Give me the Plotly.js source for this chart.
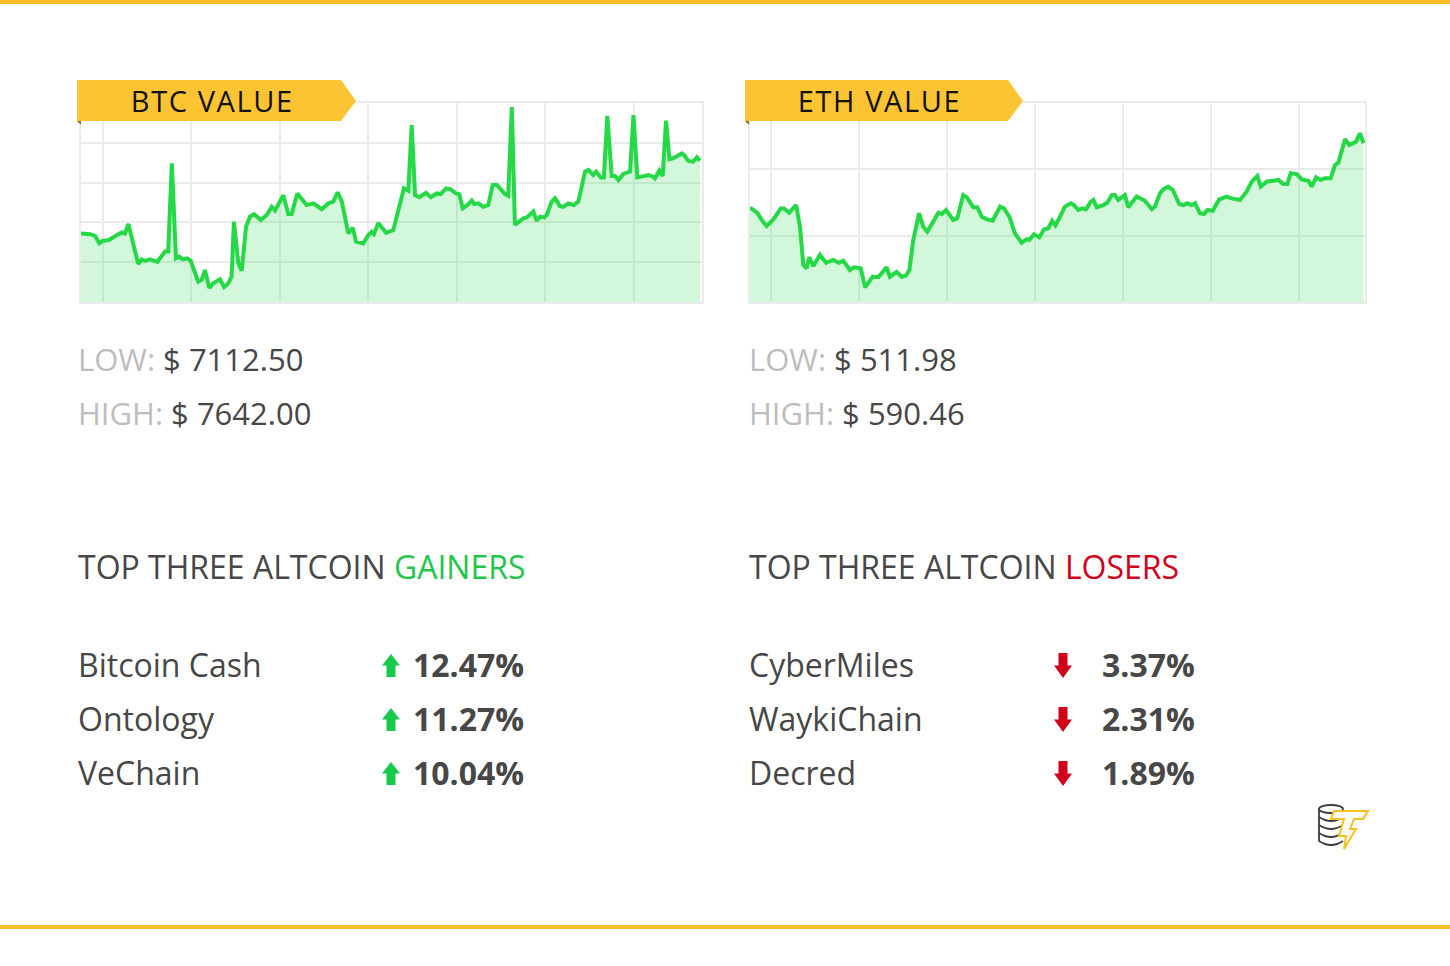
<!DOCTYPE html>
<html>
<head>
<meta charset="utf-8">
<script src="https://cdn.plot.ly/plotly-3.0.1.min.js"></script>
<style>
  html, body { margin: 0; padding: 0; background: #ffffff; }
  #chart { width: 1450px; height: 966px; }
</style>
</head>
<body>
<div id="chart"></div>
<script>
// ---------------- DATA ----------------
// time of day in hours (0-24), price in USD
const btcTime = [0.00,0.35,0.54,0.71,0.85,1.08,1.38,1.57,1.70,1.83,2.21,2.35,2.47,2.67,2.95,3.25,3.37,3.51,3.67,3.80,3.93,4.11,4.24,4.53,4.66,4.79,4.96,5.11,5.37,5.53,5.69,5.82,5.91,6.08,6.21,6.38,6.53,6.69,6.95,7.18,7.37,7.50,7.82,8.01,8.14,8.36,8.72,8.98,9.30,9.56,9.75,9.92,10.08,10.33,10.50,10.63,10.91,11.10,11.23,11.32,11.49,11.79,12.07,12.26,12.48,12.65,12.78,12.91,13.08,13.33,13.52,13.75,13.90,14.11,14.29,14.49,14.62,14.75,14.93,15.10,15.20,15.36,15.55,15.74,15.91,16.07,16.26,16.39,16.51,16.65,16.77,16.90,17.10,17.23,17.48,17.61,17.74,17.90,18.00,18.19,18.32,18.51,18.64,18.83,19.05,19.22,19.48,19.61,19.80,19.91,20.09,20.21,20.34,20.51,20.64,20.77,20.96,21.22,21.35,21.50,21.73,21.93,22.10,22.18,22.35,22.48,22.61,22.74,22.89,23.09,23.22,23.31,23.47,23.66,23.80,23.92];
const btcPrice = [7272,7270,7265,7243,7251,7253,7267,7275,7272,7300,7183,7196,7192,7196,7189,7219,7219,7477,7199,7204,7196,7199,7192,7131,7136,7165,7112.5,7126,7138,7115,7126,7146,7306,7185,7163,7292,7321,7328,7311,7326,7350,7339,7384,7329,7329,7389,7355,7360,7343,7360,7365,7392,7365,7272,7289,7248,7243,7267,7277,7270,7303,7274,7282,7341,7404,7397,7589,7384,7378,7391,7378,7389,7387,7404,7401,7389,7387,7346,7355,7368,7358,7360,7350,7355,7414,7414,7399,7387,7382,7642,7297,7306,7316,7319,7336,7309,7321,7319,7326,7365,7375,7352,7350,7360,7355,7365,7453,7458,7443,7453,7436,7436,7616,7440,7440,7428,7446,7453,7618,7436,7440,7443,7438,7433,7456,7440,7602,7489,7492,7499,7506,7501,7484,7482,7495,7485];

const ethTime = [0.00,0.28,0.46,0.65,0.91,1.20,1.33,1.53,1.80,1.95,2.08,2.21,2.31,2.47,2.73,2.97,3.25,3.47,3.64,3.90,4.06,4.32,4.49,4.79,5.01,5.33,5.46,5.72,5.92,6.08,6.22,6.37,6.60,6.76,6.92,7.22,7.35,7.48,7.65,7.93,8.09,8.32,8.46,8.71,8.87,9.04,9.24,9.47,9.76,9.91,10.12,10.34,10.60,10.80,10.90,11.08,11.29,11.47,11.64,11.79,11.92,12.10,12.29,12.52,12.64,12.81,12.98,13.11,13.30,13.40,13.53,13.79,13.94,14.12,14.24,14.37,14.63,14.76,15.09,15.41,15.68,15.80,16.00,16.13,16.32,16.50,16.75,16.91,17.07,17.24,17.37,17.56,17.72,17.85,18.06,18.31,18.47,18.60,18.80,19.12,19.38,19.58,19.80,19.93,20.16,20.62,20.81,20.97,21.10,21.34,21.53,21.79,21.92,22.09,22.27,22.44,22.66,22.83,22.96,23.22,23.39,23.65,23.80,23.95];
const ethPrice = [552.6,550.0,546.3,543.2,546.6,552.2,552.2,550.0,553.9,542.9,523.4,521.7,527.3,522.8,528.5,524.5,525.9,524.5,525.5,520.8,522.2,521.7,511.98,517.4,517.1,522.2,517.4,519.9,517.4,517.9,520.8,536.1,549.7,542.9,540.3,546.6,550.0,549.3,551.4,546.3,547.2,559.0,557.9,552.8,552.8,548.0,546.6,545.9,553.1,552.2,548.0,539.5,534.7,536.5,536.1,539.0,537.5,541.5,542.1,545.9,543.5,548.0,553.1,554.8,553.9,551.4,552.2,551.7,555.6,556.5,552.8,553.9,555.1,559.0,559.0,556.5,559.0,552.8,558.2,556.1,551.8,553.1,559.9,561.9,563.3,561.6,554.4,553.9,554.8,553.9,554.8,549.7,549.3,551.4,551.0,556.8,557.3,558.2,557.3,556.5,560.7,565.8,568.7,563.3,565.8,566.7,564.6,564.6,570.1,569.7,567.0,566.3,563.3,568.0,566.7,567.5,567.5,574.3,575.5,587.4,584.5,586.2,590.46,585.4];

const chartLabels = ["BTC VALUE", "ETH VALUE"];
const btcLow = "7112.50", btcHigh = "7642.00";
const ethLow = "511.98",  ethHigh = "590.46";

const gainerNames = ["Bitcoin Cash", "Ontology", "VeChain"];
const gainerPct   = ["12.47%", "11.27%", "10.04%"];
const loserNames  = ["CyberMiles", "WaykiChain", "Decred"];
const loserPct    = ["3.37%", "2.31%", "1.89%"];

// ---------------- HELPERS ----------------
const W = 1450, H = 966;
const X = p => p / W;
const Y = p => 1 - p / H;
function P(cmds) {
  return cmds.map(c => {
    if (c[0] === 'Z') return 'Z';
    let s = c[0];
    for (let i = 1; i < c.length; i += 2) s += ' ' + X(c[i]).toFixed(5) + ',' + Y(c[i + 1]).toFixed(5);
    return s;
  }).join(' ');
}

const FONT = "'Open Sans', 'Noto Sans', sans-serif";
const LINE = '#25d946';
const FILL = 'rgba(37,217,70,0.2)';
const GRID = '#ebebeb';
const YELLOW = '#fcc433';
const DARK = '#474747';

function axisBase(extra) {
  return Object.assign({
    showticklabels: false, ticks: '', zeroline: false,
    showgrid: true, gridcolor: GRID, gridwidth: 2,
    showline: true, mirror: true, linecolor: GRID, linewidth: 2,
    fixedrange: true
  }, extra);
}

const traces = [
  { x: btcTime, y: btcPrice, xaxis: 'x', yaxis: 'y', type: 'scatter', mode: 'lines',
    fill: 'tozeroy', fillcolor: FILL, line: { color: LINE, width: 4 }, hoverinfo: 'skip' },
  { x: ethTime, y: ethPrice, xaxis: 'x2', yaxis: 'y2', type: 'scatter', mode: 'lines',
    fill: 'tozeroy', fillcolor: FILL, line: { color: LINE, width: 4 }, hoverinfo: 'skip' }
];

// ---------------- SHAPES ----------------
const shapes = [];
shapes.push({ type: 'rect', xref: 'paper', yref: 'paper', x0: 0, x1: 1, y0: Y(4), y1: Y(0), fillcolor: '#fbbf2c', line: { width: 0 } });
shapes.push({ type: 'rect', xref: 'paper', yref: 'paper', x0: 0, x1: 1, y0: Y(929), y1: Y(925), fillcolor: '#fbbf2c', line: { width: 0 } });

function ribbon(left, right, tip) {
  shapes.push({ type: 'path', xref: 'paper', yref: 'paper',
    path: P([['M', left, 80], ['L', right, 80], ['L', tip, 101], ['L', right, 121], ['L', left, 121], ['Z']]),
    fillcolor: YELLOW, line: { width: 0 } });
  shapes.push({ type: 'path', xref: 'paper', yref: 'paper',
    path: P([['M', left, 121], ['L', left + 4, 121], ['L', left + 4, 125], ['Z']]),
    fillcolor: '#9c6b22', line: { width: 0 } });
}
ribbon(77, 341, 356);
ribbon(745, 1008, 1023);

function upArrow(cx, top, bottom, color) {
  const headB = top + (bottom - top) * 0.5;
  shapes.push({ type: 'path', xref: 'paper', yref: 'paper',
    path: P([['M', cx, top], ['L', cx + 9, headB], ['L', cx + 4.5, headB], ['L', cx + 4.5, bottom],
             ['L', cx - 4.5, bottom], ['L', cx - 4.5, headB], ['L', cx - 9, headB], ['Z']]),
    fillcolor: color, line: { width: 0 } });
}
function downArrow(cx, top, bottom, color) {
  const headT = top + (bottom - top) * 0.5;
  shapes.push({ type: 'path', xref: 'paper', yref: 'paper',
    path: P([['M', cx, bottom], ['L', cx + 9, headT], ['L', cx + 4.5, headT], ['L', cx + 4.5, top],
             ['L', cx - 4.5, top], ['L', cx - 4.5, headT], ['L', cx - 9, headT], ['Z']]),
    fillcolor: color, line: { width: 0 } });
}
const rowY = [665, 719, 773];
rowY.forEach(r => {
  upArrow(391, r - 11, r + 12, '#19c94b');
  downArrow(1063, r - 12, r + 13, '#d0021b');
});

// logo
shapes.push({ type: 'circle', xref: 'paper', yref: 'paper', x0: X(1319), x1: X(1343), y0: Y(813), y1: Y(805),
  line: { color: '#3d3d3d', width: 1.8 }, fillcolor: 'rgba(0,0,0,0)' });
[817, 825, 833, 841].forEach(yy => {
  shapes.push({ type: 'path', xref: 'paper', yref: 'paper',
    path: P([['M', 1319, yy - 8], ['L', 1319, yy], ['Q', 1331, yy + 8, 1343, yy]]),
    line: { color: '#3d3d3d', width: 1.8 } });
});
shapes.push({ type: 'path', xref: 'paper', yref: 'paper',
  path: P([['M', 1334, 811], ['L', 1368, 811], ['L', 1363, 819], ['L', 1354, 819], ['L', 1350, 829],
           ['L', 1356, 829], ['L', 1344, 849], ['L', 1346, 836], ['L', 1339, 836], ['L', 1344, 819],
           ['L', 1331, 819], ['Z']]),
  fillcolor: '#ffffff', line: { color: '#f7c01f', width: 2 } });

// ---------------- ANNOTATIONS ----------------
const ann = [];
function txt(x, y, text, size, color, extra) {
  ann.push(Object.assign({ xref: 'paper', yref: 'paper', x: X(x), y: Y(y), xanchor: 'left', yanchor: 'middle',
    text: text, showarrow: false, font: { family: FONT, size: size, color: color } }, extra || {}));
}
txt(136, 100, chartLabels[0], 29, '#111111');
txt(803, 100, chartLabels[1], 29, '#111111');

const GREY = '#bdbdbd';
txt(76, 359, "<span style='color:" + GREY + "'>LOW:</span> $ " + btcLow, 31, DARK);
txt(76, 412.5, "<span style='color:" + GREY + "'>HIGH:</span> $ " + btcHigh, 31, DARK);
txt(747, 359, "<span style='color:" + GREY + "'>LOW:</span> $ " + ethLow, 31, DARK);
txt(747, 412.5, "<span style='color:" + GREY + "'>HIGH:</span> $ " + ethHigh, 31, DARK);

txt(76, 566.5, "TOP THREE ALTCOIN <span style='color:#1fc64a'>GAINERS</span>", 32, DARK);
txt(747, 566.5, "TOP THREE ALTCOIN <span style='color:#d0021b'>LOSERS</span>", 32, DARK);

rowY.forEach((r, i) => {
  txt(76, r - 1, gainerNames[i], 32, DARK);
  txt(411, r - 1, '<b>' + gainerPct[i] + '</b>', 32, DARK);
  txt(747, r - 1, loserNames[i], 32, DARK);
  txt(1100, r - 1, '<b>' + loserPct[i] + '</b>', 32, DARK);
});

// ---------------- LAYOUT ----------------
const layout = {
  width: W, height: H,
  margin: { l: 0, r: 0, t: 0, b: 0, pad: 0 },
  paper_bgcolor: '#ffffff', plot_bgcolor: '#ffffff',
  showlegend: false,
  font: { family: FONT },
  xaxis:  axisBase({ domain: [X(81), X(702)], range: [0, 24], tick0: 0.85, dtick: 3.42 }),
  yaxis:  axisBase({ domain: [Y(302), Y(103)], range: [7071.5, 7653.6], tick0: 7071.5, dtick: 116.42 }),
  xaxis2: axisBase({ domain: [X(750), X(1365)], range: [0, 24], tick0: 0.83, dtick: 3.43, anchor: 'y2' }),
  yaxis2: axisBase({ domain: [Y(302), Y(103)], range: [504.5, 605.9], tick0: 504.5, dtick: 33.8, anchor: 'x2' }),
  shapes: shapes,
  annotations: ann
};

Plotly.newPlot('chart', traces, layout, { displayModeBar: false, staticPlot: true }).then(gd => {
  const texts = gd.querySelectorAll('.annotation .annotation-text');
  for (let i = 0; i < 2 && i < texts.length; i++) texts[i].style.letterSpacing = '1.6px';
});
</script>
</body>
</html>
